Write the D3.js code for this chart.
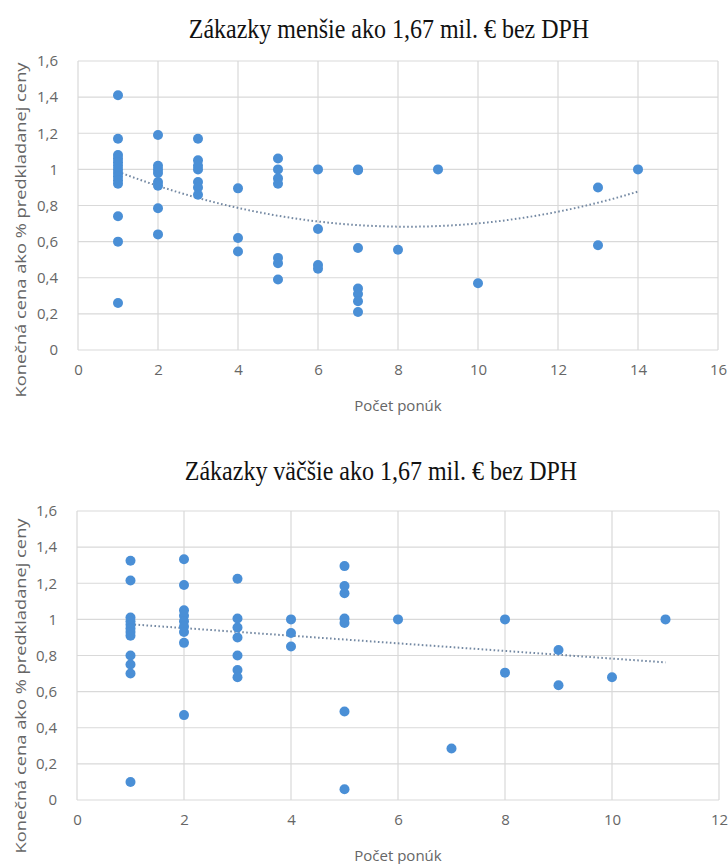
<!DOCTYPE html>
<html><head><meta charset="utf-8">
<script src="https://cdn.jsdelivr.net/npm/d3@7"></script>
<style>html,body{margin:0;padding:0;background:#fff}svg{display:block}</style>
</head><body>
<script>
// ---------- data ----------
const titleTop = "Zákazky menšie ako 1,67 mil. € bez DPH";
const titleBottom = "Zákazky väčšie ako 1,67 mil. € bez DPH";
const xTitle = "Počet ponúk";
const yTitle = "Konečná cena ako % predkladanej ceny";
const yTicks = [0, 0.2, 0.4, 0.6, 0.8, 1, 1.2, 1.4, 1.6];
const xTicksTop = [0, 2, 4, 6, 8, 10, 12, 14, 16];
const xTicksBottom = [0, 2, 4, 6, 8, 10, 12];

const topOffers = [1,1,1,1,1,1,1,1,1,1,1,1,1,1, 2,2,2,2,2,2,2,2, 3,3,3,3,3,3,3, 4,4,4, 5,5,5,5,5,5,5, 6,6,6,6, 7,7,7,7,7,7,7, 8, 9, 10, 13,13, 14];
const topPrice  = [1.41,1.17,1.08,1.06,1.04,1.02,1.00,0.98,0.96,0.94,0.92,0.74,0.60,0.26,
                   1.19,1.02,1.00,0.98,0.93,0.91,0.785,0.64,
                   1.17,1.05,1.02,1.00,0.93,0.90,0.86,
                   0.895,0.62,0.545,
                   1.06,1.00,0.95,0.92,0.51,0.48,0.39,
                   1.00,0.67,0.47,0.45,
                   1.00,0.995,0.565,0.34,0.31,0.27,0.21,
                   0.555, 1.00, 0.37, 0.90,0.58, 1.00];
// polynomial (order 2) trendline coefficients: c0 + c1*x + c2*x^2
const topTrend = [1.077, -0.0959, 0.00583];
const topTrendRange = [1, 14];

const bottomOffers = [1,1,1,1,1,1,1,1,1,1,1,1, 2,2,2,2,2,2,2,2,2, 3,3,3,3,3,3,3, 4,4,4, 5,5,5,5,5,5,5, 6, 7, 8,8, 9,9, 10, 11];
const bottomPrice  = [1.325,1.215,1.01,0.99,0.97,0.95,0.93,0.91,0.80,0.75,0.70,0.10,
                      1.333,1.19,1.05,1.02,0.99,0.96,0.93,0.87,0.47,
                      1.225,1.005,0.955,0.90,0.80,0.72,0.68,
                      1.00,0.925,0.85,
                      1.295,1.185,1.145,1.005,0.98,0.49,0.06,
                      1.00, 0.285, 1.00,0.705, 0.83,0.635, 0.68, 1.00];
// linear trendline coefficients: c0 + c1*x
const bottomTrend = [0.994, -0.0211];
const bottomTrendRange = [1, 11];

const W = 728, H = 864;
const svg = d3.select("body").append("svg").attr("width", W).attr("height", H)
  .style("font-family", "'Open Sans', 'Noto Sans', sans-serif");

const fmt = d => String(d).replace(".", ",");

function drawChart(cfg) {
  const {left, right, top, bottom, xMax, xTicks, xs, ys, trend, trendRange, title, titleX, titleY, yTitleY} = cfg;
  const x = d3.scaleLinear().domain([0, xMax]).range([left, right]);
  const y = d3.scaleLinear().domain([0, 1.6]).range([bottom, top]);
  const g = svg.append("g");

  // title
  g.append("text").attr("x", titleX).attr("y", titleY)
    .attr("text-anchor", "middle")
    .attr("transform", `translate(0,${titleY}) scale(1,1.17) translate(0,${-titleY})`)
    .style("font-family", "'Liberation Serif', 'Times New Roman', serif")
    .style("font-size", "24px").attr("fill", "#111").text(title);

  // gridlines
  g.append("g").selectAll("line").data(yTicks).join("line")
    .attr("x1", left).attr("x2", right)
    .attr("y1", d => y(d)).attr("y2", d => y(d))
    .attr("stroke", "#d9d9d9").attr("stroke-width", 1.2);
  g.append("g").selectAll("line").data(xTicks).join("line")
    .attr("y1", top).attr("y2", bottom)
    .attr("x1", d => x(d)).attr("x2", d => x(d))
    .attr("stroke", "#d9d9d9").attr("stroke-width", 1.2);

  // y axis labels
  const yAxis = d3.axisLeft(y).tickValues(yTicks).tickFormat(fmt).tickSize(0).tickPadding(20);
  const ya = g.append("g").attr("transform", `translate(${left},0)`).call(yAxis);
  ya.select(".domain").remove();
  ya.selectAll("text").style("font-size", "15px").attr("fill", "#666")
    .style("font-family", "'Open Sans', sans-serif");

  // x axis labels
  const xAxis = d3.axisBottom(x).tickValues(xTicks).tickFormat(fmt).tickSize(0).tickPadding(14);
  const xa = g.append("g").attr("transform", `translate(0,${bottom})`).call(xAxis);
  xa.select(".domain").remove();
  xa.selectAll("text").style("font-size", "15px").attr("fill", "#666")
    .style("font-family", "'Open Sans', sans-serif");

  // axis titles
  g.append("text").attr("x", (left + right) / 2).attr("y", bottom + 61)
    .attr("text-anchor", "middle").style("font-size", "15px").attr("fill", "#666").text(xTitle);
  g.append("text").attr("transform", `translate(26,${yTitleY}) rotate(-90)`)
    .attr("text-anchor", "middle").style("font-size", "15px").attr("fill", "#666")
    .attr("textLength", 335).attr("lengthAdjust", "spacingAndGlyphs").text(yTitle);

  // trendline
  const f = t => trend.reduce((s, c, i) => s + c * Math.pow(t, i), 0);
  const pts = d3.range(0, 101).map(i => trendRange[0] + (trendRange[1] - trendRange[0]) * i / 100);
  g.append("path").datum(pts)
    .attr("d", d3.line().x(d => x(d)).y(d => y(f(d))))
    .attr("fill", "none").attr("stroke", "#7489a3").attr("stroke-width", 2)
    .attr("stroke-dasharray", "1.6,2.4");

  // points
  g.append("g").selectAll("circle").data(xs.map((d, i) => [d, ys[i]])).join("circle")
    .attr("cx", d => x(d[0])).attr("cy", d => y(d[1])).attr("r", 5)
    .attr("fill", "#4a8fd6");
}

drawChart({left: 78, right: 718, top: 61, bottom: 350, xMax: 16, xTicks: xTicksTop,
  xs: topOffers, ys: topPrice, trend: topTrend, trendRange: topTrendRange,
  title: titleTop, titleX: 389, titleY: 38, yTitleY: 230});
drawChart({left: 77, right: 719, top: 511, bottom: 800, xMax: 12, xTicks: xTicksBottom,
  xs: bottomOffers, ys: bottomPrice, trend: bottomTrend, trendRange: bottomTrendRange,
  title: titleBottom, titleX: 381, titleY: 480, yTitleY: 686});
</script>
</body></html>
